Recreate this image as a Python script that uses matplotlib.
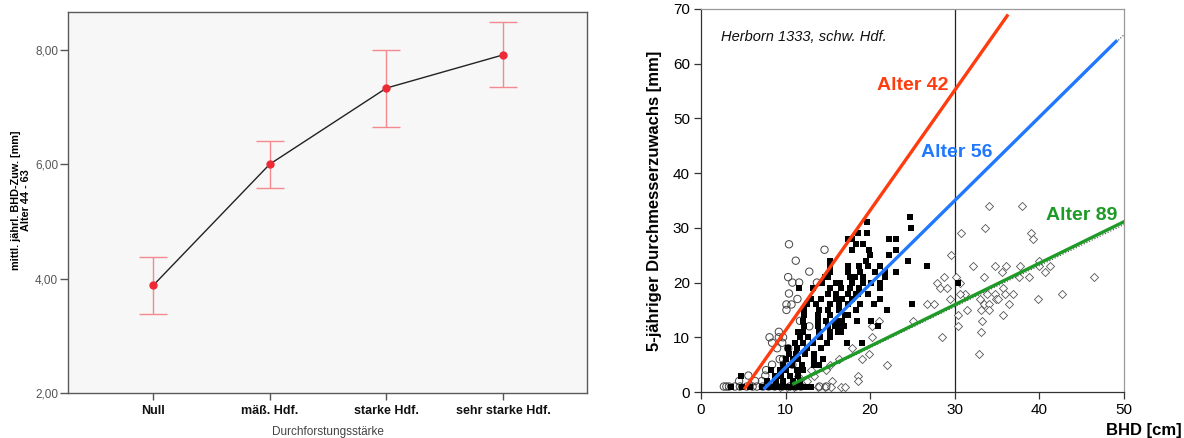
import numpy as np
import matplotlib
matplotlib.use("Agg")
import matplotlib.pyplot as plt
from matplotlib.ticker import FuncFormatter

plt.rcParams['font.family'] = ['Liberation Sans', 'DejaVu Sans']

# ---------------- left panel data ----------------
categories = ['Null', 'mäß. Hdf.', 'starke Hdf.', 'sehr starke Hdf.']
means = [3.88, 6.00, 7.33, 7.91]
ci_low = [3.38, 5.58, 6.65, 7.35]
ci_high = [4.38, 6.41, 8.00, 8.49]

# ---------------- right panel data ----------------
# open circles
circ_x = [10.4, 14.6, 11.2, 12.8, 10.3, 10.8, 11.6, 13.7, 10.4, 11.4, 10.1, 10.7,
          10.1, 11.7, 12.8, 8.1, 9.2, 9.7, 8.4, 9.6, 9.2, 9.0, 10.3, 9.3, 9.7, 7.7,
          8.4, 7.6, 5.6, 4.5, 6.4, 7.2, 9.8, 10.8,
          2.7, 3.0, 3.3, 4.0, 4.6, 5.4, 6.1, 6.6, 7.3, 8.0, 8.7, 9.6, 10.5, 11.2,
          11.8, 14.0, 14.8]
circ_y = [27, 26, 24, 22, 21, 20, 20, 20, 18, 17, 16, 16,
          15, 13, 12, 10, 10, 10, 9, 9, 11, 8, 8, 6, 6, 4,
          5, 3, 3, 2, 2, 2, 5, 5,
          1, 1, 1, 1, 1, 1, 1, 1, 1, 1, 1, 1, 1, 1,
          1, 1, 1]

# filled squares
sq_x = [24.7, 24.8, 19.6, 19.6, 17.4, 17.8, 18.5, 22.2, 23.0, 18.3, 19.2, 17.8,
        19.9, 23.1, 15.3, 20.0, 22.2, 24.5, 26.7, 15.3, 17.4, 18.7, 19.7, 21.1,
        15.3, 17.4, 18.8, 20.6, 21.8, 23.1, 15.0, 17.6, 18.2, 19.1, 21.7, 14.3,
        16.0, 17.9, 19.1, 21.1, 30.4, 11.6, 15.3, 16.6, 17.6, 18.7, 21.1, 15.0,
        16.0, 17.4, 18.3, 19.7, 14.2, 15.9, 16.7, 17.8, 21.1, 12.5, 13.6, 15.3,
        16.3, 17.4, 18.8, 20.5, 24.9, 12.2, 14.0, 15.0, 16.3, 18.3, 22.0, 12.2,
        13.8, 15.3, 17.0, 17.4, 12.1, 13.8, 14.8, 16.0, 16.7, 18.4, 20.1, 12.2,
        13.8, 15.0, 15.8, 16.6, 20.9, 11.5, 12.0, 14.0, 15.2, 16.2, 16.6, 11.7,
        12.7, 14.1, 15.2, 11.1, 12.1, 13.2, 14.9, 17.2, 19.0, 10.3, 11.3, 12.5,
        14.2, 10.4, 11.2, 12.3, 13.4, 10.1, 10.9, 11.5, 13.4, 14.4, 9.7, 10.8,
        11.9, 13.4, 14.0, 8.3, 9.3, 10.1, 11.3, 12.1, 8.7, 9.5, 10.5, 11.5, 4.7,
        7.8, 8.9, 9.7, 10.9, 11.7, 13.2, 14.6, 16.4, 18.5, 20.1, 16.9, 19.5, 13.0,
        3.6, 4.8, 5.8, 7.2, 8.0, 8.6, 9.0, 9.4, 9.8, 10.2, 10.6, 11.0, 11.4, 11.8,
        12.2, 12.6, 13.0]
sq_y = [32, 30, 31, 29, 28, 28, 29, 28, 28, 27, 27, 26,
        26, 26, 24, 25, 25, 24, 23, 23, 23, 23, 23, 23,
        22, 22, 22, 22, 22, 22, 21, 21, 21, 21, 21, 20,
        20, 20, 20, 20, 20, 19, 19, 19, 19, 19, 19, 18,
        18, 18, 18, 18, 17, 17, 17, 17, 17, 16, 16, 16,
        16, 16, 16, 16, 16, 15, 15, 15, 15, 15, 15, 14,
        14, 14, 14, 14, 13, 13, 13, 13, 13, 13, 13, 12,
        12, 12, 12, 12, 12, 11, 11, 11, 11, 11, 11, 10,
        10, 10, 10, 9, 9, 9, 9, 9, 9, 8, 8, 8,
        8, 7, 7, 7, 7, 6, 6, 6, 6, 6, 5, 5,
        5, 5, 5, 4, 4, 4, 4, 4, 3, 3, 3, 3, 3,
        2, 2, 2, 2, 2, 19, 21, 20, 18, 20, 12, 24, 17,
        1, 1, 1, 1, 1, 1, 1, 1, 1, 1, 1, 1, 1, 1,
        1, 1, 1]

# open diamonds
dia_x = [34.1, 38.0, 30.7, 33.6, 39.0, 39.2, 29.5, 32.2, 34.8, 36.1, 37.7, 40.0,
         40.0, 41.2, 40.7, 35.6, 30.2, 28.7, 33.4, 38.8, 46.4, 37.6, 27.9, 30.6,
         28.3, 29.1, 35.7, 33.8, 31.2, 30.6, 34.7, 35.9, 36.9, 42.7, 33.0, 34.9,
         35.1, 39.8, 29.4, 26.7, 27.6, 33.5, 34.1, 36.4, 31.4, 33.1, 34.1, 30.4,
         35.7, 33.2, 25.1, 21.0, 30.4, 20.2, 33.1, 28.5, 20.2, 32.9, 17.9, 19.0,
         16.3, 22.0, 18.6, 18.5, 15.5, 14.8, 15.3, 19.9, 12.0, 11.5, 13.0,
         9.3, 10.2, 11.0, 13.8, 14.6, 15.4, 16.5, 17.0, 12.5, 13.4]
dia_y = [34, 34, 29, 30, 29, 28, 25, 23, 23, 23, 23, 24,
         23, 23, 22, 22, 21, 21, 21, 21, 21, 21, 20, 20,
         19, 19, 19, 18, 18, 18, 18, 18, 18, 18, 17, 17,
         17, 17, 17, 16, 16, 16, 16, 16, 15, 15, 15, 14,
         14, 13, 13, 13, 12, 12, 11, 10, 10, 7, 8, 6,
         6, 5, 3, 2, 2, 4, 5, 7, 2, 3, 4,
         1, 1, 1, 1, 1, 1, 1, 1, 2, 3]

# fitted lines (end points)
red_x, red_y = [5.1, 36.3], [0.5, 69.0]
blue_x, blue_y = [7.4, 49.2], [0.5, 64.3]
blue_fit_x, blue_fit_y = [7.4, 50.0], [0.5, 65.3]
green_x, green_y = [10.8, 50.1], [1.4, 31.2]
green_fit_x, green_fit_y = [10.8, 50.0], [1.2, 30.6]

W, H = 1184, 438
fig = plt.figure(figsize=(W / 100, H / 100), dpi=100)

# ======================= left panel =======================
ax1 = fig.add_axes([68 / W, 1 - 393 / H, (587 - 68) / W, (393 - 12) / H])
ax1.set_facecolor('#f7f7f7')
xpos = np.arange(len(categories))
err = [np.array(means) - np.array(ci_low), np.array(ci_high) - np.array(means)]
ax1.errorbar(xpos, means, yerr=err, fmt='none', ecolor='#f48a8e', elinewidth=1.0,
             capsize=10, capthick=1.0, zorder=2)
ax1.plot(xpos, means, color='#222222', lw=1.0, zorder=3)
ax1.plot(xpos, means, 'o', color='#ee2a35', ms=5, zorder=4)
ax1.set_xlim(-0.73, 3.72)
ax1.set_ylim(2.0, 8.66)
ax1.set_yticks([2, 4, 6, 8])
ax1.yaxis.set_major_formatter(FuncFormatter(lambda v, p: f'{v:.2f}'.replace('.', ',')))
ax1.set_xticks(xpos)
ax1.set_xticklabels(categories, fontweight='bold', fontsize=9, color='#111111')
ax1.tick_params(axis='y', labelsize=8.5, labelcolor='#555555', color='#555555',
                length=6, width=1, pad=1)
ax1.tick_params(axis='x', color='#555555', length=5, width=1, pad=4)
for s in ax1.spines.values():
    s.set_color('#5a5a5a')
    s.set_linewidth(1.0)
ax1.set_xlabel('Durchforstungsstärke', fontsize=8.5, color='#444444', labelpad=6)
fig.text(21 / W, 1 - 200 / H, 'mittl. jährl. BHD-Zuw. [mm]\nAlter 44 - 63',
         rotation=90, ha='center', va='center', fontsize=7.8, fontweight='bold',
         linespacing=1.0)

# ======================= right panel =======================
ax2 = fig.add_axes([701 / W, 1 - 392 / H, (1124 - 701) / W, (392 - 9) / H])
ax2.scatter(dia_x, dia_y, marker='D', s=17, facecolors='white',
            edgecolors='#555555', linewidths=0.6, zorder=2)
ax2.scatter(circ_x, circ_y, marker='o', s=28, facecolors='none',
            edgecolors='#444444', linewidths=0.7, zorder=2)
ax2.scatter(sq_x, sq_y, marker='s', s=15, color='black', linewidths=0, zorder=3)

ax2.axvline(30, color='#222222', lw=0.9, zorder=1)
ax2.plot(blue_fit_x, blue_fit_y, color='#444444', lw=0.8, ls=':', zorder=4)
ax2.plot(green_fit_x, green_fit_y, color='#444444', lw=0.8, ls=':', zorder=4)
ax2.plot(red_x, red_y, color='#ff3c0f', lw=2.4, solid_capstyle='butt', zorder=5)
ax2.plot(blue_x, blue_y, color='#1f78ff', lw=2.4, solid_capstyle='butt', zorder=5)
ax2.plot(green_x, green_y, color='#1e9a26', lw=2.4, solid_capstyle='butt', zorder=5)

ax2.text(25.0, 56.0, 'Alter 42', color='#ff3c0f', fontsize=14, fontweight='bold',
         ha='center', va='center', zorder=6)
ax2.text(30.2, 43.7, 'Alter 56', color='#1f78ff', fontsize=14, fontweight='bold',
         ha='center', va='center', zorder=6)
ax2.text(45.0, 32.3, 'Alter 89', color='#1e9a26', fontsize=14, fontweight='bold',
         ha='center', va='center', zorder=6)
ax2.text(2.4, 64.9, 'Herborn 1333, schw. Hdf.', fontsize=10.5, style='italic',
         ha='left', va='center', color='#111111')

ax2.set_xlim(0, 50)
ax2.set_ylim(0, 70)
ax2.set_xticks([0, 10, 20, 30, 40, 50])
ax2.set_yticks([0, 10, 20, 30, 40, 50, 60, 70])
ax2.tick_params(labelsize=11, length=5, width=0.9, color='#333333', pad=3)
ax2.spines['left'].set_color('#333333')
ax2.spines['bottom'].set_color('#333333')
ax2.spines['top'].set_color('#999999')
ax2.spines['right'].set_color('#999999')
for s in ax2.spines.values():
    s.set_linewidth(0.9)
ax2.set_ylabel('5-jähriger Durchmesserzuwachs [mm]', fontsize=12, fontweight='bold',
               labelpad=8)
fig.text(1182 / W, 1 - 430 / H, 'BHD [cm]', fontsize=12, fontweight='bold',
         ha='right', va='center')

fig.savefig('out.png', dpi=100)
